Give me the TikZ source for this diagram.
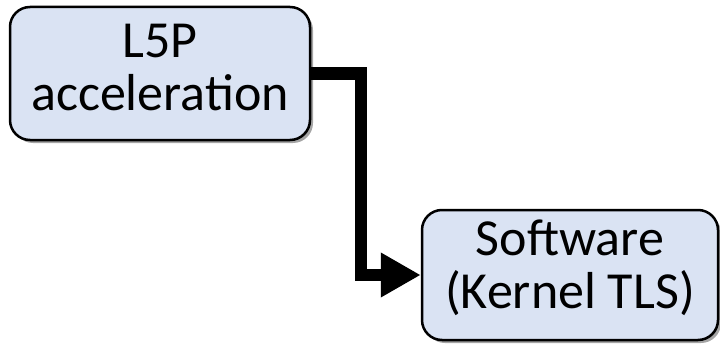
\documentclass[tikz,border=0pt]{standalone}
\usepackage{fontspec}
\setmainfont{Carlito}
\usetikzlibrary{arrows.meta,shadows}
\begin{document}
\begin{tikzpicture}[x=1pt,y=-1pt,
  box/.style={draw=black,line width=2.5pt,fill=boxblue,rounded corners=20pt,
    minimum width=#1,align=center,inner sep=0pt,
    font=\fontsize{52}{53}\selectfont,
    drop shadow={shadow xshift=3pt,shadow yshift=-3pt,opacity=0.5,fill=black!70}},
  conn/.style={line width=12pt,-{Triangle[length=40pt,width=42pt]}}]
\definecolor{boxblue}{HTML}{DAE3F3}
\useasboundingbox (0,0) rectangle (720,345);
\node[box=300pt,minimum height=133pt,text depth=12pt] (a) at (160,73.5) {L5P\\acceleration};
\node[box=296pt,minimum height=130pt,text depth=21pt] (b) at (570,275) {Software\\(Kernel TLS)};
\draw[conn] (a.east) -| ([xshift=-60pt]b.west) coordinate (k) |- (b.west);
\end{tikzpicture}
\end{document}
